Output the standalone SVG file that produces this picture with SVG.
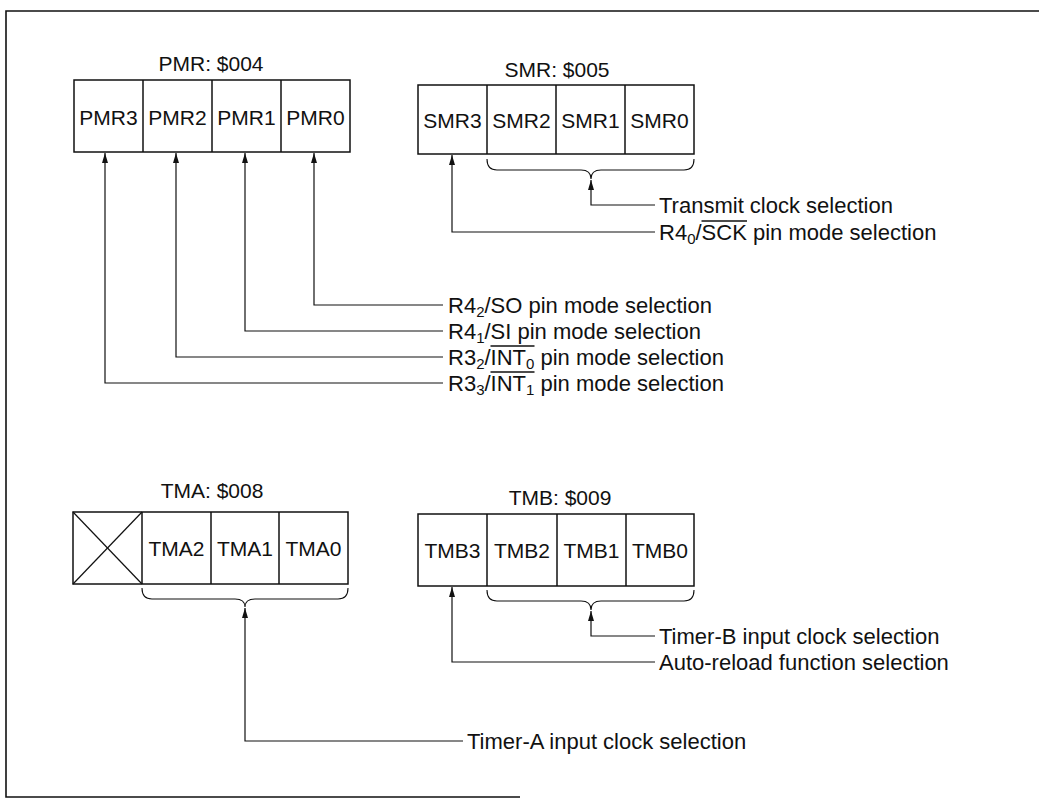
<svg xmlns="http://www.w3.org/2000/svg" width="1039" height="802" viewBox="0 0 1039 802">
<defs>
<marker id="ah" viewBox="0 0 10 6" refX="10" refY="3" markerWidth="10" markerHeight="6" markerUnits="userSpaceOnUse" orient="auto">
<path d="M0,0 L10,3 L0,6 z" fill="#111"/>
</marker>
<style>
.frame{fill:none;stroke:#111;stroke-width:1.6}
.cell{fill:#fff;stroke:#111;stroke-width:1.5}
.ln{fill:none;stroke:#111;stroke-width:1.2}
.br{fill:none;stroke:#111;stroke-width:1.1}
.ovl{stroke:#111;stroke-width:1.3}
.title{font-family:"Liberation Sans",Arial,sans-serif;font-size:21px;fill:#111;text-anchor:middle}
.lbl{font-family:"Liberation Sans",Arial,sans-serif;font-size:21px;fill:#111;text-anchor:middle}
.txt{font-family:"Liberation Sans",Arial,sans-serif;font-size:22px;fill:#111}
.sub{font-size:15px}
</style>
</defs>
<rect width="1039" height="802" fill="#fff"/>
<g id="frame">
<path class="frame" d="M1039,11 L6,11 L6,797 L520,797"/>
</g>

<g id="pmr">
<text class="title" x="211" y="71">PMR: $004</text>
<rect class="cell" x="74" y="80" width="276" height="72"/>
<line class="cell" x1="143" y1="80" x2="143" y2="152"/>
<line class="cell" x1="212" y1="80" x2="212" y2="152"/>
<line class="cell" x1="281" y1="80" x2="281" y2="152"/>
<text class="lbl" x="108.5" y="124.5">PMR3</text>
<text class="lbl" x="177.5" y="124.5">PMR2</text>
<text class="lbl" x="246.5" y="124.5">PMR1</text>
<text class="lbl" x="315.5" y="124.5">PMR0</text>
</g>

<g id="smr">
<text class="title" x="557" y="77">SMR: $005</text>
<rect class="cell" x="418" y="85" width="276" height="69"/>
<line class="cell" x1="487" y1="85" x2="487" y2="154"/>
<line class="cell" x1="556" y1="85" x2="556" y2="154"/>
<line class="cell" x1="625" y1="85" x2="625" y2="154"/>
<text class="lbl" x="452.5" y="127.5">SMR3</text>
<text class="lbl" x="521.5" y="127.5">SMR2</text>
<text class="lbl" x="590.5" y="127.5">SMR1</text>
<text class="lbl" x="659.5" y="127.5">SMR0</text>
</g>

<g id="tma">
<text class="title" x="212" y="498">TMA: $008</text>
<rect class="cell" x="73" y="512" width="275" height="72"/>
<line class="cell" x1="142" y1="512" x2="142" y2="584"/>
<line class="cell" x1="211" y1="512" x2="211" y2="584"/>
<line class="cell" x1="279" y1="512" x2="279" y2="584"/>
<line class="ln" x1="73" y1="512" x2="142" y2="584"/>
<line class="ln" x1="142" y1="512" x2="73" y2="584"/>
<text class="lbl" x="176.5" y="555.5">TMA2</text>
<text class="lbl" x="245" y="555.5">TMA1</text>
<text class="lbl" x="313.5" y="555.5">TMA0</text>
</g>

<g id="tmb">
<text class="title" x="560" y="505">TMB: $009</text>
<rect class="cell" x="418" y="514" width="276" height="72"/>
<line class="cell" x1="487" y1="514" x2="487" y2="586"/>
<line class="cell" x1="557" y1="514" x2="557" y2="586"/>
<line class="cell" x1="626" y1="514" x2="626" y2="586"/>
<text class="lbl" x="452.5" y="557.5">TMB3</text>
<text class="lbl" x="522" y="557.5">TMB2</text>
<text class="lbl" x="591.5" y="557.5">TMB1</text>
<text class="lbl" x="660" y="557.5">TMB0</text>
</g>

<g id="connectors">
<path class="ln" d="M443,305 H314 V153" marker-end="url(#ah)"/>
<path class="ln" d="M443,331 H245 V153" marker-end="url(#ah)"/>
<path class="ln" d="M443,357 H176 V153" marker-end="url(#ah)"/>
<path class="ln" d="M443,383 H105 V153" marker-end="url(#ah)"/>
<path class="br" d="M487,159 Q487,170 497,170 L581,170 Q591,170 591,179 Q591,170 601,170 L684,170 Q694,170 694,159"/>
<path class="ln" d="M655,205 H591 V180" marker-end="url(#ah)"/>
<path class="ln" d="M655,232 H452 V155" marker-end="url(#ah)"/>
<path class="br" d="M142,588 Q142,599 152,599 L235,599 Q245,599 245,607 Q245,599 255,599 L338,599 Q348,599 348,588"/>
<path class="ln" d="M463,741 H245 V608" marker-end="url(#ah)"/>
<path class="br" d="M487,590 Q487,601 497,601 L581,601 Q591,601 591,610 Q591,601 601,601 L684,601 Q694,601 694,590"/>
<path class="ln" d="M655,636 H591 V611" marker-end="url(#ah)"/>
<path class="ln" d="M655,662 H452 V587" marker-end="url(#ah)"/>
</g>

<g id="labels">
<text class="txt" x="448" y="312.5">R4<tspan class="sub" dy="4">2</tspan><tspan dy="-4">/SO pin mode selection</tspan></text>
<text class="txt" x="448" y="338.5">R4<tspan class="sub" dy="4">1</tspan><tspan dy="-4">/SI pin mode selection</tspan></text>
<text class="txt" x="448" y="364.5">R3<tspan class="sub" dy="4">2</tspan><tspan dy="-4">/INT</tspan><tspan class="sub" dy="4">0</tspan><tspan dy="-4"> pin mode selection</tspan></text>
<line class="ovl" x1="490.5" y1="346" x2="534.5" y2="346"/>
<text class="txt" x="448" y="390.5">R3<tspan class="sub" dy="4">3</tspan><tspan dy="-4">/INT</tspan><tspan class="sub" dy="4">1</tspan><tspan dy="-4"> pin mode selection</tspan></text>
<line class="ovl" x1="490.5" y1="372" x2="534.5" y2="372"/>
<text class="txt" x="659" y="212.5">Transmit clock selection</text>
<text class="txt" x="659" y="239.5">R4<tspan class="sub" dy="4">0</tspan><tspan dy="-4">/SCK pin mode selection</tspan></text>
<line class="ovl" x1="701.5" y1="221" x2="747" y2="221"/>
<text class="txt" x="467" y="748.5">Timer-A input clock selection</text>
<text class="txt" x="659" y="643.5">Timer-B input clock selection</text>
<text class="txt" x="659" y="669.5">Auto-reload function selection</text>
</g>
</svg>
